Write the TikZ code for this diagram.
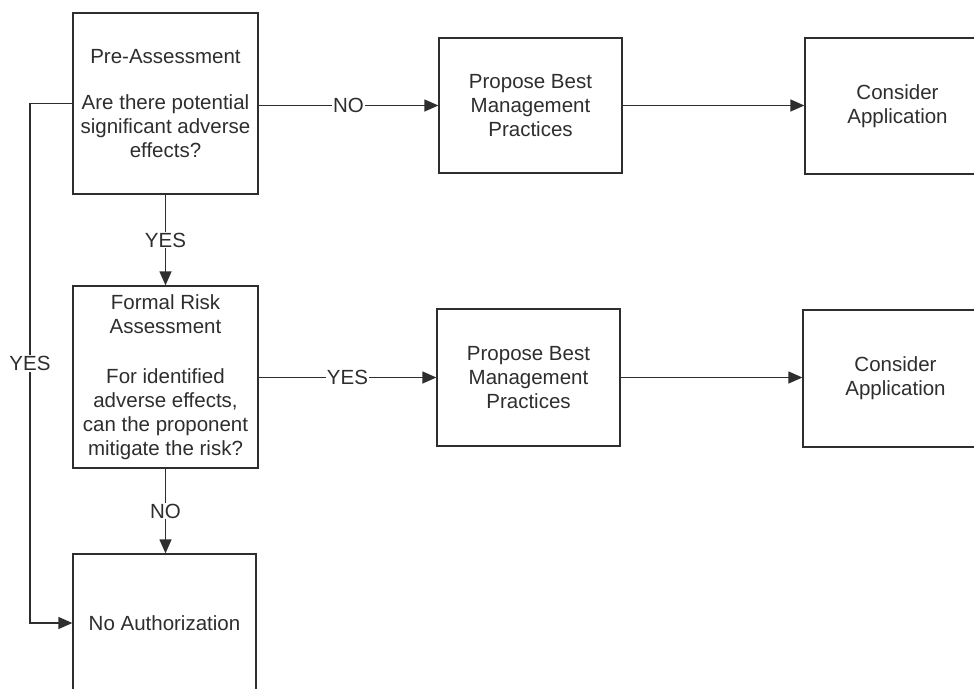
\documentclass[tikz,border=0pt]{standalone}
\usepackage{fontspec}
\setmainfont{Liberation Sans}
\usetikzlibrary{arrows.meta}
\definecolor{ink}{HTML}{2E2E2E}
\tikzset{
  box/.style={draw=ink, line width=1.3pt, rectangle, align=center, text=ink,
    font=\fontsize{20.5}{24}\selectfont, inner sep=0pt},
  arr/.style={draw=ink, line width=1.3pt, -{Triangle[length=14pt,width=12pt]}},
  lab/.style={fill=white, text=ink, font=\fontsize{20.5}{24}\selectfont, inner sep=1pt}
}
\begin{document}
\begin{tikzpicture}[x=1pt,y=-1pt]
\useasboundingbox[fill=white] (0,0) rectangle (974,688);
\node[box, minimum width=185pt, minimum height=181pt] (b1) at (165.5,103.5)
  {Pre-Assessment\\[22pt]Are there potential\\significant adverse\\effects?};
\node[box, minimum width=183pt, minimum height=135pt] (b2) at (530.5,105.5)
  {Propose Best\\Management\\Practices};
\node[box, minimum width=185pt, minimum height=136pt] (b3) at (897.5,106)
  {Consider\\Application};
\node[box, minimum width=185pt, minimum height=182pt] (b4) at (165.5,377)
  {Formal Risk\\Assessment\\[26pt]For identified\\adverse effects,\\can the proponent\\mitigate the risk?};
\node[box, minimum width=183pt, minimum height=137pt] (b5) at (528.5,377.5)
  {Propose Best\\Management\\Practices};
\node[box, minimum width=185pt, minimum height=137pt] (b6) at (895.5,378.5)
  {Consider\\Application};
\node[box, minimum width=183pt, minimum height=138pt] (b7) at (164.5,623)
  {No Authorization};
\coordinate (lft) at (30,0);
\draw[arr] (b1.east |- b2.west) -- node[lab]{NO} (b2.west);
\draw[arr] (b2.east) -- (b2.east -| b3.west);
\draw[arr] (b1.south) -- node[lab]{YES} (b1.south |- b4.north);
\draw[arr] (b4.east |- b5.west) -- node[lab]{YES} (b5.west);
\draw[arr] (b5.east) -- (b5.east -| b6.west);
\draw[arr] (b4.south) -- node[lab]{NO} (b4.south |- b7.north);
\draw[arr] (b1.west) -- (b1.west -| lft) -- node[lab]{YES} (b7.west -| lft) -- (b7.west);
\end{tikzpicture}
\end{document}
